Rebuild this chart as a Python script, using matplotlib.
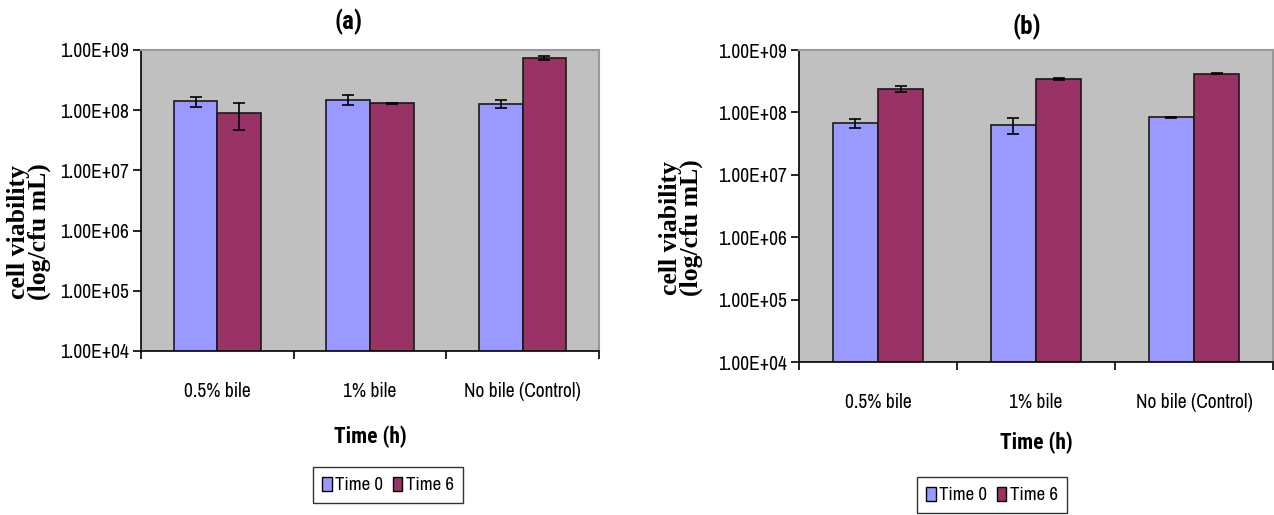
import numpy as np
import matplotlib
matplotlib.use('Agg')
import matplotlib.pyplot as plt
from matplotlib.patches import Patch
from matplotlib.ticker import FixedLocator, FuncFormatter, NullLocator

categories = ['0.5% bile', '1% bile', 'No bile (Control)']
series_names = ['Time 0', 'Time 6']

# panel (a)
a_time0 = [1.40e8, 1.50e8, 1.28e8]
a_time0_err = [0.25e8, 0.27e8, 0.19e8]
a_time6 = [9.0e7, 1.30e8, 7.3e8]
a_time6_err = [4.3e7, 0.03e8, 0.6e8]

# panel (b)
b_time0 = [6.7e7, 6.3e7, 8.3e7]
b_time0_err = [1.1e7, 1.8e7, 0.2e7]
b_time6 = [2.4e8, 3.4e8, 4.2e8]
b_time6_err = [0.25e8, 0.1e8, 0.1e8]

decades = [1e4, 1e5, 1e6, 1e7, 1e8, 1e9]

SANS = ['Arial Narrow', 'Liberation Sans Narrow', 'Archivo Narrow',
        'Liberation Sans', 'DejaVu Sans']
SANS_BOLD = ['Arial Narrow', 'Liberation Sans Narrow', 'Roboto Condensed',
             'Asap Condensed', 'Fira Sans Condensed', 'Liberation Sans']
SERIF = ['Liberation Serif', 'DejaVu Serif']
C0 = '#9999FF'
C6 = '#993366'

W, H = 1274, 515
fig = plt.figure(figsize=(W / 100, H / 100), dpi=100)


def px(x, y):
    return x / W, 1 - y / H


def sci(v, pos):
    e = int(round(np.log10(v)))
    return '%.2fE+%02d' % (v / 10 ** e, e)


def panel(left, right, top, bottom, t0, e0, t6, e6, title, title_xy,
          ylab_x, ylab_y, xlab_y, leg_xy):
    x0, y0 = px(left, bottom)
    x1, y1 = px(right, top)
    ax = fig.add_axes([x0, y0, x1 - x0, y1 - y0])
    ax.set_facecolor('#C0C0C0')
    ax.set_yscale('log')
    ax.set_ylim(1e4, 1e9)
    ax.set_xlim(0, 3)

    w = 1 / 3.5
    centers = np.arange(len(categories)) + 0.5
    ebar = dict(ecolor='black', elinewidth=1.2, capsize=4, capthick=1.2)
    ax.bar(centers - w / 2, t0, w, yerr=e0, color=C0, edgecolor='#1a1a1a',
           linewidth=1.2, error_kw=ebar, zorder=2)
    ax.bar(centers + w / 2, t6, w, yerr=e6, color=C6, edgecolor='#1a1a1a',
           linewidth=1.2, error_kw=ebar, zorder=2)

    ax.yaxis.set_major_locator(FixedLocator(decades))
    ax.yaxis.set_minor_locator(NullLocator())
    ax.yaxis.set_major_formatter(FuncFormatter(sci))
    ax.set_xticks([0, 1, 2, 3])
    ax.set_xticklabels([])
    ax.set_xticks(centers, minor=True)
    ax.set_xticklabels(categories, minor=True, family=SANS, fontsize=14)
    ax.tick_params(axis='x', which='minor', length=0, pad=22)
    ax.tick_params(axis='x', which='major', length=6, width=1.2,
                   direction='out')
    ax.tick_params(axis='y', length=6, width=1.2, direction='out', pad=3)
    for lab in ax.get_yticklabels():
        lab.set_family(SANS)
        lab.set_fontsize(14)

    for s in ('left', 'bottom'):
        ax.spines[s].set_color('black')
        ax.spines[s].set_linewidth(1.2)
    for s in ('top', 'right'):
        ax.spines[s].set_color('#999999')
        ax.spines[s].set_linewidth(1.5)

    fig.text(*px(*title_xy), title, ha='center', va='center',
             family=SANS_BOLD, fontsize=18, fontweight='bold')
    fig.text(*px(ylab_x, ylab_y), 'cell viability\n(log/cfu mL)',
             rotation=90, ha='center', va='center', family=SERIF,
             fontsize=18.5, fontweight='bold', linespacing=0.9)
    fig.text(*px((left + right) / 2, xlab_y), 'Time (h)', ha='center',
             va='center', family=SANS_BOLD, fontsize=15.5, fontweight='bold')

    handles = [Patch(facecolor=C0, edgecolor='black', linewidth=1),
               Patch(facecolor=C6, edgecolor='black', linewidth=1)]
    fig.legend(handles, series_names, loc='center',
               bbox_to_anchor=px(*leg_xy), ncol=2, frameon=True,
               fancybox=False, edgecolor='black', handlelength=0.5,
               handleheight=0.75, handletextpad=0.2, columnspacing=0.5,
               borderpad=0.5, borderaxespad=0,
               prop=dict(family=SANS, size=13.5))
    return ax


panel(141, 599, 50, 351, a_time0, a_time0_err, a_time6, a_time6_err,
      '(a)', (349, 22), 29, 232, 437, (388, 485))
panel(799, 1273, 50, 362, b_time0, b_time0_err, b_time6, b_time6_err,
      '(b)', (1027, 27), 681, 228, 443, (992, 495))

fig.savefig('out.png', dpi=100, facecolor='white')
